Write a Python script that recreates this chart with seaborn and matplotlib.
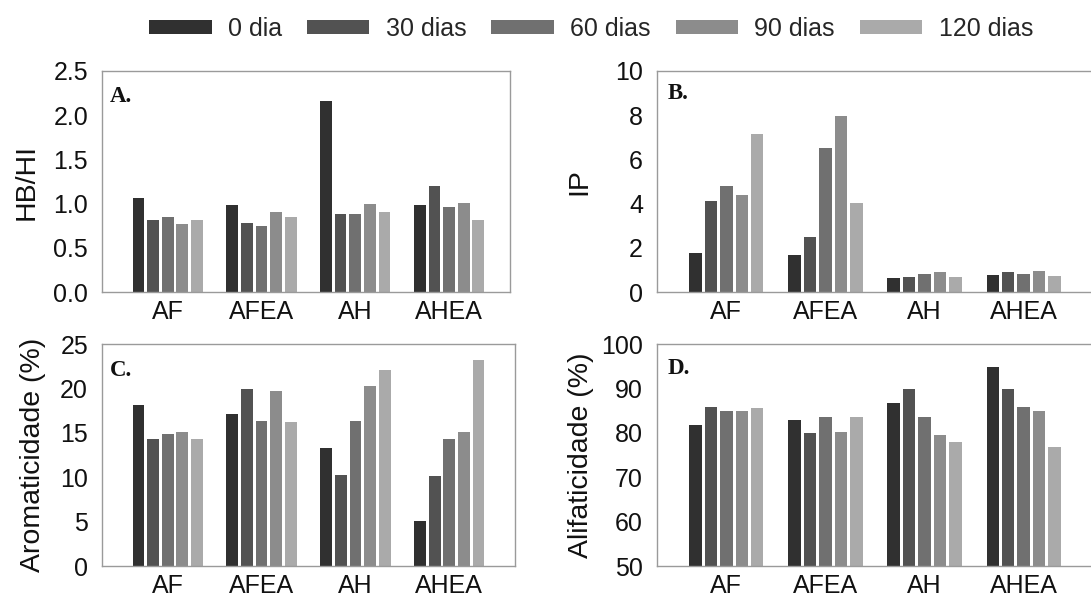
import matplotlib
matplotlib.use("Agg")
import matplotlib.pyplot as plt
import seaborn as sns
import pandas as pd
from matplotlib.patches import Patch

categories = ["AF", "AFEA", "AH", "AHEA"]
periods = ["0 dia", "30 dias", "60 dias", "90 dias", "120 dias"]

# values per category, in period order
hbhi = {
    "AF":   [1.06, 0.81, 0.85, 0.77, 0.81],
    "AFEA": [0.98, 0.78, 0.75, 0.91, 0.85],
    "AH":   [2.16, 0.88, 0.88, 1.00, 0.90],
    "AHEA": [0.98, 1.20, 0.96, 1.01, 0.82],
}
ip = {
    "AF":   [1.76, 4.10, 4.78, 4.39, 7.15],
    "AFEA": [1.69, 2.49, 6.53, 7.98, 4.01],
    "AH":   [0.62, 0.68, 0.81, 0.92, 0.66],
    "AHEA": [0.75, 0.92, 0.83, 0.94, 0.74],
}
aromaticidade = {
    "AF":   [18.1, 14.25, 14.9, 15.07, 14.25],
    "AFEA": [17.1, 19.9, 16.3, 19.7, 16.2],
    "AH":   [13.3, 10.2, 16.3, 20.3, 22.1],
    "AHEA": [5.08, 10.1, 14.25, 15.07, 23.2],
}
alifaticidade = {
    "AF":   [81.8, 85.7, 84.9, 84.9, 85.6],
    "AFEA": [82.8, 79.9, 83.6, 80.2, 83.6],
    "AH":   [86.7, 89.8, 83.6, 79.6, 77.9],
    "AHEA": [94.9, 89.8, 85.7, 84.9, 76.8],
}

colors = ["#303030", "#525252", "#707070", "#8c8c8c", "#aaaaaa"]

def to_long(d):
    rows = []
    for c in categories:
        for p, v in zip(periods, d[c]):
            rows.append({"cat": c, "period": p, "value": v})
    return pd.DataFrame(rows)

sns.set_theme(style="white")
plt.rcParams["font.family"] = ["Liberation Sans", "DejaVu Sans"]

fig = plt.figure(figsize=(10.91, 6.01), dpi=100)
W, H = 1091.0, 601.0

def box(l, t, r, b):
    return [l / W, 1 - b / H, (r - l) / W, (b - t) / H]

panels = [
    dict(pos=box(102, 71, 510, 292), data=hbhi, ylim=(0, 2.5), ticks=[0, 0.5, 1.0, 1.5, 2.0, 2.5],
         fmt="{:.1f}", ylabel="HB/HI", label="A.", xr=3.65, lx=-0.152, tx=0.02, ty=0.93),
    dict(pos=box(657, 71, 1095, 292), data=ip, ylim=(0, 10), ticks=[0, 2, 4, 6, 8, 10],
         fmt="{:.0f}", ylabel="IP", label="B.", xr=3.72, lx=-0.148, tx=0.025, ty=0.945),
    dict(pos=box(102, 344, 515, 566), data=aromaticidade, ylim=(0, 25), ticks=[0, 5, 10, 15, 20, 25],
         fmt="{:.0f}", ylabel="Aromaticidade (%)", label="C.", xr=3.70, lx=-0.136, tx=0.02, ty=0.93),
    dict(pos=box(657, 344, 1095, 566), data=alifaticidade, ylim=(50, 100), ticks=[50, 60, 70, 80, 90, 100],
         fmt="{:.0f}", ylabel="Alifaticidade (%)", label="D.", xr=3.72, lx=-0.144, tx=0.025, ty=0.935),
]

for p in panels:
    ax = fig.add_axes(p["pos"])
    df = to_long(p["data"])
    sns.barplot(data=df, x="cat", y="value", hue="period", order=categories,
                hue_order=periods, palette=colors, width=0.78, gap=0.2,
                legend=False, ax=ax, saturation=1, linewidth=0)
    ax.set_xlim(-0.70, p["xr"])
    ax.set_ylim(*p["ylim"])
    ax.set_yticks(p["ticks"])
    ax.set_yticklabels([p["fmt"].format(t) for t in p["ticks"]])
    ax.set_xlabel("")
    ax.set_ylabel(p["ylabel"], fontsize=20.5, color="#111111")
    ax.yaxis.set_label_coords(p["lx"], 0.5)
    ax.tick_params(axis="both", length=0, labelsize=18, colors="#111111")
    ax.tick_params(axis="y", pad=10)
    ax.tick_params(axis="x", pad=6)
    for s in ax.spines.values():
        s.set_color("#9a9a9a")
        s.set_linewidth(1.0)
        s.set_visible(True)
    ax.text(p["tx"], p["ty"], p["label"], transform=ax.transAxes, ha="left", va="top",
            fontsize=16.5, fontweight="bold", family=["Liberation Serif", "DejaVu Serif"],
            color="#111111")

handles = [Patch(facecolor=c, edgecolor="none", label=l) for c, l in zip(colors, periods)]
fig.legend(handles=handles, loc="center", bbox_to_anchor=(591 / W, 1 - 29 / H), ncol=5,
           frameon=False, fontsize=18, handlelength=2.5, handleheight=0.45,
           handletextpad=0.65, columnspacing=1.0, borderaxespad=0, borderpad=0)

fig.savefig("out.png", dpi=100, facecolor="white")
